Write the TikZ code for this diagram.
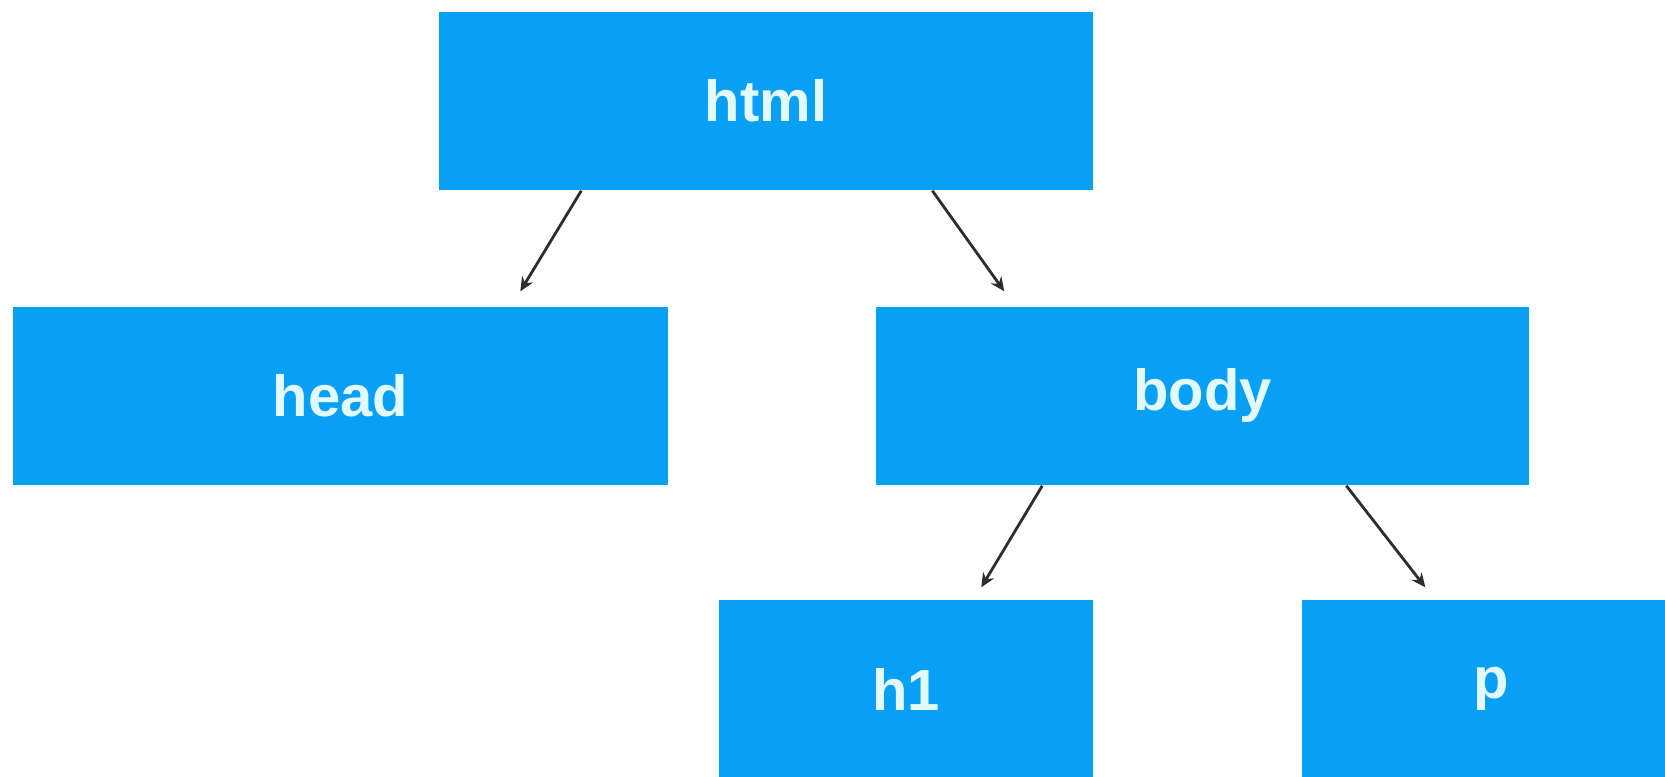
\documentclass[tikz,border=0pt]{standalone}
\usepackage{fontspec}
\setmainfont{Liberation Sans}
\usepackage{xcolor}
\usetikzlibrary{calc, positioning, arrows.meta}
\definecolor{boxblue}{RGB}{8,160,245}
\definecolor{boxtext}{RGB}{226,250,255}
\definecolor{edgegray}{RGB}{45,45,45}

\begin{document}
\begin{tikzpicture}
                      [text centered,
                       tag/.style={fill=boxblue, text=boxtext, inner sep=0pt,
                                   minimum width=6.54cm, minimum height=1.78cm,
                                   font=\fontsize{16.5}{18}\selectfont\bfseries},
                       child/.style={->, >={Stealth[length=4pt, width=3.6pt]}, draw=edgegray, line width=0.8pt}]
                      \useasboundingbox (0,0) rectangle (16.65,-7.77);
                      \clip (0,0) rectangle (16.65,-7.77);
                      \fill[white] (0,0) rectangle (16.65,-7.77);
                      % nodes %
                      \node[tag] (html) at (7.66,-1.01) {html};
                      \node[tag, minimum width=6.55cm] (head) at (3.405,-3.96) {head};
                      \node[tag, minimum width=6.53cm] (body) at (12.025,-3.96) {body};
                      \node[tag, minimum width=3.74cm] (h1) at (9.06,-6.89) {h1};
                      \node[tag, minimum width=3.78cm] (p) at (14.91,-6.89) {p};

                      % edges %
                      \draw[child] ([xshift=1.43cm]html.south west) -- ([xshift=5.08cm, yshift=0.15cm]head.north west);
                      \draw[child] ([xshift=4.94cm]html.south west) -- ([xshift=1.29cm, yshift=0.15cm]body.north west);
                      \draw[child] ([xshift=1.67cm]body.south west) -- ([xshift=2.63cm, yshift=0.12cm]h1.north west);
                      \draw[child] ([xshift=4.71cm]body.south west) -- ([xshift=1.24cm, yshift=0.12cm]p.north west);
                    \end{tikzpicture}
\end{document}
